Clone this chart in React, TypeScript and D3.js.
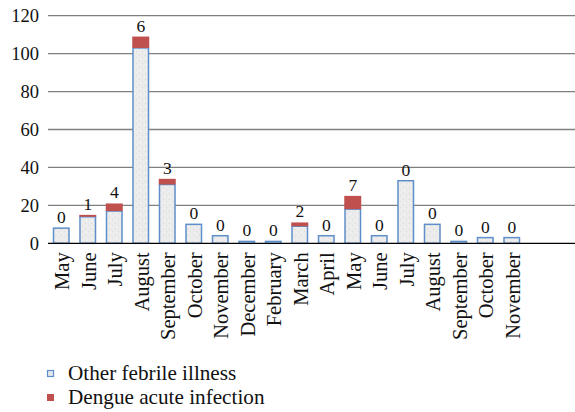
import React from "react";
import * as d3 from "d3";

const months = ["May", "June", "July", "August", "September", "October", "November", "December", "February", "March", "April", "May", "June", "July", "August", "September", "October", "November"];
const otherFebrile = [8, 14, 17, 103, 31, 10, 4, 1, 1, 9, 4, 18, 4, 33, 10, 1, 3, 3];
const dengue = [0, 1, 4, 6, 3, 0, 0, 0, 0, 2, 0, 7, 0, 0, 0, 0, 0, 0];
const yTicks = [0, 20, 40, 60, 80, 100, 120];

const W = 575, H = 412;
const left = 48, top = 15.7, bottom = 243.3;
const FONT = "Liberation Serif, DejaVu Serif, Times New Roman, serif";

export default function App() {
  const slots = d3.range(20).map(String);
  const x = d3.scaleBand<string>().domain(slots).range([left, left + 20 * 26.5]).paddingInner(0.415).paddingOuter(0.2075);
  const y = d3.scaleLinear().domain([0, 120]).range([bottom, top]);
  const bw = x.bandwidth();
  return (
    <svg width={W} height={H} style={{ position: "absolute", left: 0, top: 0, background: "#fff", fontFamily: FONT }}>
      <defs>
        <pattern id="spk" width="6" height="6" patternUnits="userSpaceOnUse">
          <rect width="6" height="6" fill="#ececec" />
          <rect x="1" y="1" width="1" height="1" fill="#d8d8d8" />
          <rect x="4" y="3" width="1" height="1" fill="#dcdcdc" />
          <rect x="2" y="4" width="1" height="1" fill="#f6f6f6" />
        </pattern>
      </defs>
      {yTicks.map((t) => (
        <g key={t}>
          {t > 0 && <line x1={left} x2={W} y1={y(t)} y2={y(t)} stroke="#7f7f7f" strokeWidth={1.3} />}
          <text x={39} y={y(t)} dy="0.35em" textAnchor="end" fontSize={18.5} fill="#111">{t}</text>
        </g>
      ))}
      {months.map((m, i) => {
        const cx = x(String(i))!;
        const o = otherFebrile[i], d = dengue[i];
        return (
          <g key={i}>
            <rect x={cx} y={y(o)} width={bw} height={y(0) - y(o)} fill="url(#spk)" stroke="#5e8fcb" strokeWidth={1.5} />
            {d > 0 && <rect x={cx - 0.75} y={y(o + d)} width={bw + 1.5} height={y(o) - y(o + d)} fill="#c0504d" />}
            <text x={cx + bw / 2} y={y(o + d) - 5} textAnchor="middle" fontSize={17.5} fill="#111">{d}</text>
            <text transform={`translate(${cx + bw / 2 + 1},${bottom + 9}) rotate(-90)`} dy="0.35em" textAnchor="end" fontSize={20.5} fill="#111">{m}</text>
          </g>
        );
      })}
      <line x1={left} x2={W} y1={bottom} y2={bottom} stroke="#000" strokeWidth={1.3} />
      <rect x={47.5} y={370.5} width={6} height={6} fill="#e4e8ee" stroke="#5e8fcb" strokeWidth={1.2} />
      <text x={68} y={380} fontSize={21.2} fill="#111">Other febrile illness</text>
      <rect x={47} y={394} width={7} height={7} fill="#c0504d" />
      <text x={68} y={404} fontSize={21.2} fill="#111">Dengue acute infection</text>
    </svg>
  );
}
